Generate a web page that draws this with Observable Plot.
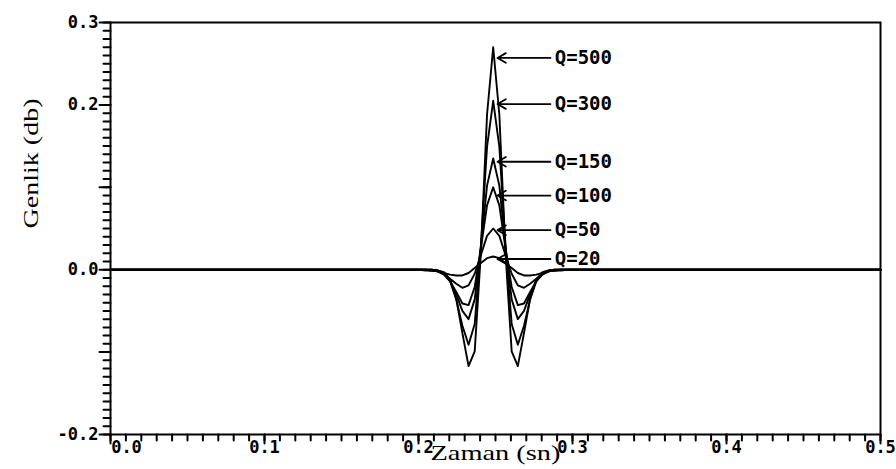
<!DOCTYPE html>
<html><head><meta charset="utf-8">
<script src="https://cdn.jsdelivr.net/npm/d3@7"></script>
<script src="https://cdn.jsdelivr.net/npm/@observablehq/plot@0.6"></script>
<style>body{margin:0;background:#fff}</style>
</head><body><div id="chart"></div>
<script>
// time samples (s)
const time = [0, 0.2005, 0.2045, 0.2085, 0.2125, 0.2165, 0.2205, 0.2245, 0.2285, 0.2325, 0.2365, 0.2405, 0.2445, 0.2485,
  0.2525, 0.2565, 0.2605, 0.2645, 0.2685, 0.2725, 0.2765, 0.2805, 0.2845, 0.2885, 0.2925, 0.2965, 0.5];
// amplitudes for each Q
const q500 = [0, 0, 0, 0, -0.001, -0.003, -0.012, -0.035, -0.077, -0.117, -0.099, 0.020, 0.188, 0.270,
  0.188, 0.020, -0.099, -0.117, -0.077, -0.035, -0.012, -0.003, -0.001, 0, 0, 0, 0];
const q300 = [0, 0, 0, 0, -0.001, -0.004, -0.014, -0.036, -0.068, -0.091, -0.066, 0.029, 0.149, 0.205,
  0.149, 0.029, -0.066, -0.091, -0.068, -0.036, -0.014, -0.004, -0.001, 0, 0, 0, 0];
const q150 = [0, 0, 0, 0, -0.001, -0.005, -0.013, -0.030, -0.050, -0.060, -0.036, 0.028, 0.102, 0.135,
  0.102, 0.028, -0.036, -0.060, -0.050, -0.030, -0.013, -0.005, -0.001, 0, 0, 0, 0];
const q100 = [0, 0, 0, -0.001, -0.002, -0.006, -0.014, -0.027, -0.041, -0.043, -0.021, 0.026, 0.078, 0.100,
  0.078, 0.026, -0.021, -0.043, -0.041, -0.027, -0.014, -0.006, -0.002, -0.001, 0, 0, 0];
const q50 = [0, 0, 0, -0.001, -0.002, -0.005, -0.011, -0.017, -0.022, -0.019, -0.005, 0.018, 0.041, 0.050,
  0.041, 0.018, -0.005, -0.019, -0.022, -0.017, -0.011, -0.005, -0.002, -0.001, 0, 0, 0];
const q20 = [0, 0, -0.001, -0.001, -0.002, -0.004, -0.006, -0.007, -0.007, -0.004, 0.002, 0.008, 0.014, 0.016,
  0.014, 0.008, 0.002, -0.004, -0.007, -0.007, -0.006, -0.004, -0.002, -0.001, -0.001, 0, 0];

const seriesNames = ["Q=500", "Q=300", "Q=150", "Q=100", "Q=50", "Q=20"];
const seriesValues = [q500, q300, q150, q100, q50, q20];
const labelLevels = [0.257, 0.201, 0.131, 0.090, 0.048, 0.013];

const xTickValues = [0.1, 0.2, 0.3, 0.4, 0.5];
const xTickLabels = ["0.1", "0.2", "0.3", "0.4", "0.5"];
const xFirstTick = [0];
const xFirstLabel = ["0.0"];
const yTickValues = [0.3, 0.2, 0.0, -0.2];
const yTickLabels = ["0.3", "0.2", "0.0", "-0.2"];
const xMajorTicks = [0, 0.1, 0.2, 0.3, 0.4, 0.5];
const yMajorTicks = [0.3, 0.2, 0.1, 0.0, -0.1, -0.2];
const xTitle = "Zaman (sn)";
const yTitle = "Genlik (db)";

const rows = seriesNames.flatMap((q, s) => time.map((t, i) => ({q, t, v: seriesValues[s][i]})));
const labels = seriesNames.map((q, i) => ({q, y: labelLevels[i]}));
const xMinor = d3.range(0, 51).map(i => i / 100);
const yMinor = d3.range(-20, 31).map(i => i / 100);

const mono = "DejaVu Sans Mono";
const serif = "Liberation Serif";
const W = 896, H = 469, mL = 110, mR = 16, mT = 22, mB = 35;
const fw = W - mL - mR, fh = H - mT - mB;
const xDom = [0, 0.5], yDom = [-0.2, 0.3];
// pixel -> data unit conversion for tick lengths
const px = (xDom[1] - xDom[0]) / fw, py = (yDom[1] - yDom[0]) / fh;

// tick segments as two-point polylines
const xTickSegs = [
  ...xMinor.flatMap((v, i) => [{id: "xm" + i, x: v, y: yDom[0]}, {id: "xm" + i, x: v, y: yDom[0] - 6 * py}]),
  ...xMajorTicks.flatMap((v, i) => [{id: "xM" + i, x: v, y: yDom[0]}, {id: "xM" + i, x: v, y: yDom[0] - 9 * py}])
];
const yTickSegs = [
  ...yMinor.flatMap((v, i) => [{id: "ym" + i, y: v, x: xDom[0]}, {id: "ym" + i, y: v, x: xDom[0] - 7 * px}]),
  ...yMajorTicks.flatMap((v, i) => [{id: "yM" + i, y: v, x: xDom[0]}, {id: "yM" + i, y: v, x: xDom[0] - 11 * px}])
];

const chart = Plot.plot({
  width: W, height: H,
  marginLeft: mL, marginRight: mR, marginTop: mT, marginBottom: mB,
  x: {domain: xDom, axis: null},
  y: {domain: yDom, axis: null},
  marks: [
    Plot.frame({stroke: "#000", strokeWidth: 2}),
    // tick marks
    Plot.line(xTickSegs, {x: "x", y: "y", z: "id", stroke: "#000", strokeWidth: 2}),
    Plot.line(yTickSegs, {x: "x", y: "y", z: "id", stroke: "#000", strokeWidth: 2}),
    // tick labels
    Plot.text(xTickValues, {x: d => d, y: yDom[0], lineAnchor: "top", dy: 6, fill: "#000",
      text: (d, i) => xTickLabels[i], fontFamily: mono, fontWeight: "bold", fontSize: 17}),
    Plot.text(xFirstTick, {x: d => d, y: yDom[0], lineAnchor: "top", dy: 6, dx: 16, fill: "#000",
      text: (d, i) => xFirstLabel[i], fontFamily: mono, fontWeight: "bold", fontSize: 17}),
    Plot.text(yTickValues, {y: d => d, x: xDom[0], textAnchor: "end", dx: -12, fill: "#000",
      text: (d, i) => yTickLabels[i], fontFamily: mono, fontWeight: "bold", fontSize: 17}),
    Plot.line(rows, {x: "t", y: "v", z: "q", stroke: "#000", strokeWidth: 1.9}),
    Plot.arrow(labels, {x1: 0.2857, x2: 0.2513, y1: "y", y2: "y", stroke: "#000", strokeWidth: 1.8, headLength: 8}),
    Plot.text(labels, {x: 0.2885, y: "y", text: "q", textAnchor: "start", fill: "#000", fontFamily: mono, fontWeight: "bold", fontSize: 19}),
    Plot.text([xTitle], {frameAnchor: "bottom", dy: 25, fill: "#000", fontFamily: serif, fontSize: 22}),
    Plot.text([yTitle], {frameAnchor: "left", dx: -80, rotate: -90, fill: "#000", fontFamily: serif, fontSize: 22})
  ]
});
// stretch the serif axis titles horizontally like the scanned original
d3.select(chart).selectAll("text").each(function () {
  const t = this.textContent;
  if (t === xTitle || t === yTitle) {
    d3.select(this).attr("textLength", 130).attr("lengthAdjust", "spacingAndGlyphs");
  }
});
document.getElementById("chart").append(chart);
</script>
</body></html>
